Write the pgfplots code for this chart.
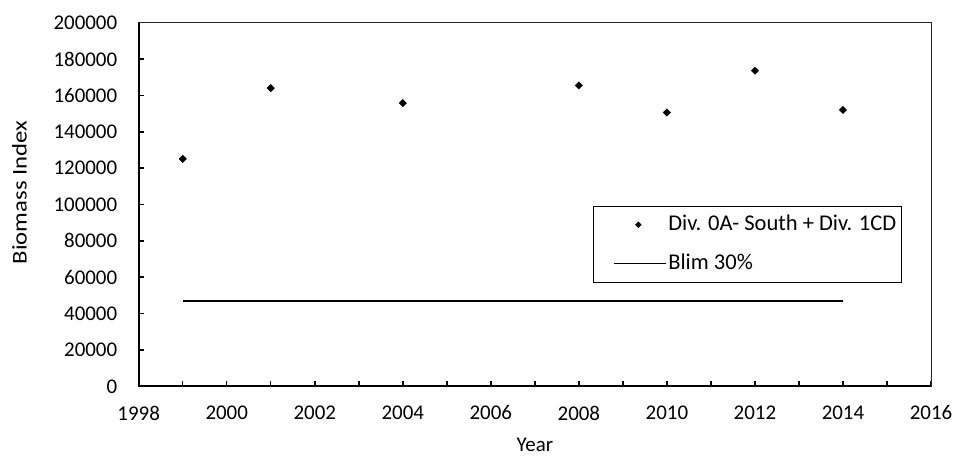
\documentclass[border=0pt]{standalone}
\usepackage{pgfplots}
\pgfplotsset{compat=1.18}
\usepackage{fontspec}
\setmainfont{Carlito}
\newfontfamily\ylfont{Carlito}[FakeStretch=1.18]
\begin{document}
\begin{tikzpicture}
\begin{axis}[
  name=ax,
  scale only axis, width=792.3bp, height=363.6bp,
  xmin=1998, xmax=2016, ymin=0, ymax=200000,
  xtick={1998,2000,...,2016}, minor xtick={1999,2001,...,2015},
  ytick={0,20000,...,200000},
  scaled y ticks=false,
  /pgf/number format/assume math mode=true,
  yticklabel style={/pgf/number format/fixed, /pgf/number format/1000 sep={}, anchor=east, xshift=-18bp},
  xticklabel style={/pgf/number format/1000 sep={}, anchor=north, yshift=-16bp},
  tick pos=left, tick align=inside,
  major tick length=5bp, minor tick length=5bp,
  every tick/.style={black, line width=1.5bp},
  axis line style={line width=0.8bp, black!85},
  font=\fontsize{21}{25}\selectfont,
  xlabel={Year}, ylabel={Biomass Index},
  xlabel style={at={(axis description cs:0.5,-0.1614)}, anchor=center},
  ylabel style={at={(axis description cs:-0.1505,0.533)}, anchor=center, font=\ylfont\fontsize{21}{25}\selectfont},
  legend style={draw=black, line width=0.8bp, at={(0.963,0.496)}, anchor=north east,
    font=\fontsize{22.6}{26}\selectfont, inner xsep=3.5bp, inner ysep=8bp, row sep=18bp,
    nodes={inner xsep=1.5bp, inner ysep=0bp, text height=16bp, text depth=5bp}},
  legend cell align=left,
]
\addplot[only marks, mark=square*, mark options={rotate=45}, mark size=2.6bp, black,
  legend image code/.code={\path (-16.5bp,0bp) (52bp,0bp); \fill[black] plot[mark=square*, mark size=1.9bp, mark options={rotate=45}] coordinates {(24bp,0bp)};}]
  coordinates {(1999,125100) (2001,164000) (2004,155800) (2008,165500) (2010,150600) (2012,173600) (2014,152000)};
\addlegendentry{Div. 0A- South + Div. 1CD}
\addplot[black, line width=1.5bp, mark=none,
  legend image code/.code={\path (-16.5bp,0bp); \draw[black, line width=0.9bp] (0bp,0bp) -- (52bp,0bp);}]
  coordinates {(1999,47000) (2014,47000)};
\addlegendentry{Blim 30\%}
\end{axis}
\draw[black, line width=2bp] (ax.north west) -- (ax.south west) -- (ax.south east);
\pgfresetboundingbox
\path (ax.south west) ++(-138.7bp,-69.7bp) rectangle ++(956bp,456bp);
\end{tikzpicture}
\end{document}
